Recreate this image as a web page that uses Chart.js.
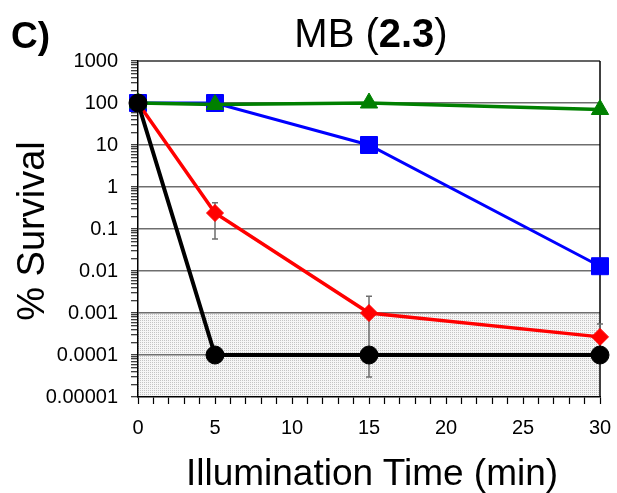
<!DOCTYPE html>
<html>
<head>
<meta charset="utf-8">
<script src="https://cdn.jsdelivr.net/npm/chart.js@4/dist/chart.umd.min.js"></script>
<style>
  html, body { margin:0; padding:0; background:#fff; }
  #wrap { position:relative; width:617px; height:493px; overflow:hidden; font-family:"Liberation Sans", Arial, sans-serif; color:#000; }
  #c { position:absolute; left:0; top:0; }
  .txt { position:absolute; line-height:1; white-space:nowrap; }
</style>
</head>
<body>
<div id="wrap">
  <canvas id="c" width="617" height="493"></canvas>
  <div class="txt" style="left:11px; top:17px; font-size:37px; font-weight:bold;">C)</div>
  <div class="txt" style="left:221px; width:300px; text-align:center; top:13px; font-size:40px;">MB (<b>2.3</b>)</div>
  <div class="txt" style="left:172px; width:400px; text-align:center; top:454px; font-size:37px;">Illumination Time (min)</div>
  <div class="txt" style="left:-119px; top:212px; width:300px; height:38px; text-align:center; font-size:38px; transform:rotate(-90deg);">% Survival</div>
</div>
<script>
// ---- data ----
const timesMin = [0, 5, 15, 30];
const blueSquares = [100, 100, 10, 0.013];
const greenTriangles = [100, 92, 100, 70];
const redDiamonds = [100, 0.24, 0.001, 0.00027];
const blackCircles = [100, 0.0001, 0.0001, 0.0001];
const redErrHigh = [null, 0.42, 0.0025, 0.00055];
const redErrLow = [null, 0.058, 0.00003, null];
const blackErrHigh = [null, null, null, null];
const blackErrLow = [null, null, null, null];
const yTickValues = [0.00001, 0.0001, 0.001, 0.01, 0.1, 1, 10, 100, 1000];
const yTickLabels = ['0.00001', '0.0001', '0.001', '0.01', '0.1', '1', '10', '100', '1000'];
const xTickLabels = ['0', '5', '10', '15', '20', '25', '30'];
const detectionLimitRange = [0.00001, 0.001];

function pts(vals) { return vals.map((v, i) => ({ x: timesMin[i], y: v })); }
function isDecade(v) { const l = Math.log10(v); return Math.abs(l - Math.round(l)) < 1e-9; }

// stipple pattern for the below-detection shaded region
const pc = document.createElement('canvas');
pc.width = 2; pc.height = 2;
const pctx = pc.getContext('2d');
pctx.fillStyle = '#f6f6f6'; pctx.fillRect(0, 0, 2, 2);
pctx.fillStyle = '#c4c4c4'; pctx.fillRect(0, 0, 1, 1);

const shadePlugin = {
  id: 'shade',
  beforeDraw(chart) {
    const { ctx, chartArea: a, scales: { y } } = chart;
    const yTop = y.getPixelForValue(detectionLimitRange[1]);
    const yBot = y.getPixelForValue(detectionLimitRange[0]);
    ctx.save();
    ctx.fillStyle = ctx.createPattern(pc, 'repeat');
    ctx.fillRect(a.left, yTop, a.right - a.left, yBot - yTop);
    ctx.restore();
  },
  beforeDatasetsDraw(chart) {
    const { ctx, chartArea: a, scales: { x, y } } = chart;
    ctx.save();
    ctx.lineWidth = 1.5;
    ctx.strokeStyle = '#303030';
    ctx.beginPath(); ctx.moveTo(a.left, a.top); ctx.lineTo(a.right, a.top); ctx.stroke();
    ctx.strokeStyle = '#000';
    ctx.beginPath(); ctx.moveTo(a.right, a.top); ctx.lineTo(a.right, a.bottom); ctx.stroke();
    ctx.strokeStyle = '#6e6e6e';
    ctx.lineWidth = 1.5;
    const drawErr = (vals, hi, lo) => {
      vals.forEach((v, i) => {
        const px = x.getPixelForValue(timesMin[i]);
        const py = y.getPixelForValue(v);
        [hi[i], lo[i]].forEach(e => {
          if (e == null) return;
          const ey = y.getPixelForValue(e);
          ctx.beginPath(); ctx.moveTo(px, py); ctx.lineTo(px, ey);
          ctx.moveTo(px - 3, ey); ctx.lineTo(px + 3, ey); ctx.stroke();
        });
      });
    };
    drawErr(redDiamonds, redErrHigh, redErrLow);
    drawErr(blackCircles, blackErrHigh, blackErrLow);
    ctx.restore();
  }
};

const tickFont = { family: '"Liberation Sans", Arial, sans-serif', size: 20 };

new Chart(document.getElementById('c'), {
  type: 'line',
  data: {
    datasets: [
      { label: 'blue', data: pts(blueSquares), borderColor: '#0000FF', backgroundColor: '#0000FF', borderWidth: 3, pointStyle: 'rect', pointRadius: 12, pointBorderWidth: 1, order: 3, clip: false },
      { label: 'red', data: pts(redDiamonds), borderColor: '#FF0000', backgroundColor: '#FF0000', borderWidth: 3.5, pointStyle: 'rectRot', pointRadius: 8.5, pointBorderWidth: 1, order: 2, clip: false },
      { label: 'green', data: pts(greenTriangles), borderColor: '#008000', backgroundColor: '#008000', borderWidth: 3.5, pointStyle: 'triangle', pointRadius: 10, pointBorderWidth: 1, order: 1, clip: false },
      { label: 'black', data: pts(blackCircles), borderColor: '#000000', backgroundColor: '#000000', borderWidth: 4, pointStyle: 'circle', pointRadius: 9, pointBorderWidth: 1, order: 0, clip: false }
    ]
  },
  options: {
    responsive: false,
    animation: false,
    devicePixelRatio: 1,
    layout: { padding: { left: 0, top: 61, right: 17, bottom: 0 } },
    plugins: { legend: { display: false }, tooltip: { enabled: false }, title: { display: false } },
    elements: { line: { tension: 0 } },
    scales: {
      x: {
        type: 'linear', min: 0, max: 30,
        afterBuildTicks(s) { const t = []; for (let i = 0; i <= 30; i++) t.push({ value: i }); s.ticks = t; },
        afterFit(s) { s.height = 96; s.paddingLeft = 0; s.paddingRight = 0; },
        ticks: {
          autoSkip: false, maxRotation: 0, minRotation: 0, padding: 12, color: '#000', font: tickFont,
          callback(v) { return v % 5 === 0 ? xTickLabels[v / 5] : ''; }
        },
        grid: { drawOnChartArea: false, drawTicks: true, tickLength: 7, tickColor: '#000', tickWidth: 1.2 },
        border: { color: '#000', width: 1.5 }
      },
      y: {
        type: 'logarithmic', min: 0.00001, max: 1000,
        afterBuildTicks(s) {
          const t = [];
          for (let d = -5; d <= 2; d++) for (let m = 1; m <= 9; m++) t.push({ value: Number((m * Math.pow(10, d)).toPrecision(6)) });
          t.push({ value: 1000 });
          s.ticks = t;
        },
        afterFit(s) { s.width = 138; s.paddingTop = 0; s.paddingBottom = 0; },
        ticks: {
          autoSkip: false, padding: 13, color: '#000', font: tickFont,
          callback(v) { const i = yTickValues.findIndex(tv => Math.abs(tv - v) / tv < 1e-6); return i >= 0 ? yTickLabels[i] : ''; }
        },
        grid: {
          drawTicks: true, tickLength: 7, tickColor: '#000', tickWidth: 1,
          color(c) { const v = c.tick && c.tick.value; return v && isDecade(v) && v < 1000 && v > 0.00001 ? '#6e6e6e' : 'rgba(0,0,0,0)'; },
          lineWidth: 1.5
        },
        border: { color: '#000', width: 1.5 }
      }
    }
  },
  plugins: [shadePlugin]
});
</script>
</body>
</html>
